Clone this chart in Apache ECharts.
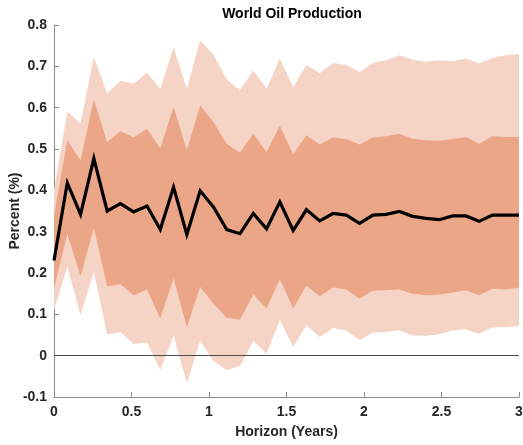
<!DOCTYPE html>
<html>
<head>
<meta charset="utf-8">
<script src="https://cdn.jsdelivr.net/npm/echarts@6/dist/echarts.min.js"></script>
<style>
html,body{margin:0;padding:0;background:#fff;}
#chart{width:523px;height:445px;}
</style>
</head>
<body>
<div id="chart"></div>
<script>
// Horizon in years (36 points from 0 to 3)
const horizon = [0, 0.0857, 0.1714, 0.2571, 0.3429, 0.4286, 0.5143, 0.6, 0.6857, 0.7714, 0.8571, 0.9429, 1.0286, 1.1143, 1.2, 1.2857, 1.3714, 1.4571, 1.5429, 1.6286, 1.7143, 1.8, 1.8857, 1.9714, 2.0571, 2.1429, 2.2286, 2.3143, 2.4, 2.4857, 2.5714, 2.6571, 2.7429, 2.8286, 2.9143, 3];

const median = [0.23, 0.418, 0.342, 0.477, 0.350, 0.368, 0.348, 0.362, 0.305, 0.408, 0.293, 0.399, 0.360, 0.305, 0.295, 0.344, 0.307, 0.372, 0.303, 0.353, 0.326, 0.344, 0.340, 0.320, 0.340, 0.342, 0.349, 0.337, 0.332, 0.329, 0.338, 0.338, 0.325, 0.340, 0.340, 0.340];

const outerUpper = [0.40, 0.590, 0.562, 0.723, 0.634, 0.665, 0.658, 0.685, 0.645, 0.747, 0.646, 0.763, 0.728, 0.669, 0.642, 0.690, 0.646, 0.719, 0.650, 0.703, 0.683, 0.708, 0.703, 0.686, 0.708, 0.715, 0.727, 0.716, 0.711, 0.715, 0.712, 0.719, 0.707, 0.720, 0.727, 0.730];

const innerUpper = [0.34, 0.521, 0.473, 0.620, 0.517, 0.543, 0.528, 0.549, 0.501, 0.602, 0.497, 0.605, 0.565, 0.513, 0.491, 0.537, 0.493, 0.556, 0.487, 0.533, 0.511, 0.528, 0.524, 0.511, 0.528, 0.531, 0.537, 0.525, 0.521, 0.520, 0.524, 0.529, 0.513, 0.531, 0.529, 0.529];

const innerLower = [0.162, 0.295, 0.192, 0.309, 0.168, 0.173, 0.146, 0.160, 0.090, 0.187, 0.069, 0.166, 0.126, 0.092, 0.087, 0.148, 0.114, 0.185, 0.114, 0.170, 0.144, 0.165, 0.160, 0.138, 0.157, 0.158, 0.160, 0.150, 0.146, 0.148, 0.153, 0.158, 0.146, 0.162, 0.160, 0.165];

const outerLower = [0.110, 0.215, 0.099, 0.203, 0.052, 0.057, 0.028, 0.032, -0.035, 0.049, -0.066, 0.036, -0.013, -0.035, -0.025, 0.036, 0.005, 0.086, 0.021, 0.074, 0.045, 0.067, 0.061, 0.037, 0.056, 0.057, 0.061, 0.049, 0.048, 0.052, 0.061, 0.064, 0.053, 0.069, 0.069, 0.072];

const chart = echarts.init(document.getElementById('chart'), null, {renderer: 'canvas'});

function bandSeries(upper, lower, color, z) {
  return {
    type: 'custom',
    coordinateSystem: 'cartesian2d',
    silent: true,
    z: z,
    data: [[0, 0]],
    renderItem: function (params, api) {
      const pts = [];
      for (let i = 0; i < horizon.length; i++) pts.push(api.coord([horizon[i], upper[i]]));
      for (let i = horizon.length - 1; i >= 0; i--) pts.push(api.coord([horizon[i], lower[i]]));
      return {
        type: 'polygon',
        shape: {points: pts},
        style: {fill: color, stroke: null}
      };
    }
  };
}

const font = '"Liberation Sans", Arial, sans-serif';

chart.setOption({
  animation: false,
  backgroundColor: '#fff',
  title: {
    text: 'World Oil Production',
    left: 287, top: 2, textAlign: 'center',
    textStyle: {fontFamily: font, fontSize: 14, fontWeight: 'bold', color: '#000'}
  },
  grid: {left: 54, right: 4, top: 25, bottom: 48, containLabel: false, outerBoundsMode: 'none'},
  xAxis: {
    type: 'value', min: 0, max: 3, interval: 0.5,
    name: 'Horizon (Years)', nameLocation: 'middle', nameGap: 28, nameMoveOverlap: false,
    nameTextStyle: {fontFamily: font, fontSize: 14, fontWeight: 'bold', color: '#262626'},
    axisLine: {show: true, onZero: false, lineStyle: {color: '#8a8a8a', width: 1}},
    axisTick: {show: true, inside: true, length: 5, lineStyle: {color: '#8a8a8a'}},
    axisLabel: {fontFamily: font, fontSize: 14, fontWeight: 'bold', color: '#262626', margin: 8},
    splitLine: {show: false}
  },
  yAxis: {
    type: 'value', min: -0.1, max: 0.8, interval: 0.1,
    name: 'Percent (%)', nameLocation: 'middle', nameGap: 32, nameRotate: 90, nameMoveOverlap: false,
    nameTextStyle: {fontFamily: font, fontSize: 14, fontWeight: 'bold', color: '#262626'},
    axisLine: {show: true, onZero: false, lineStyle: {color: '#8a8a8a', width: 1}},
    axisTick: {show: true, inside: true, length: 5, lineStyle: {color: '#8a8a8a'}},
    axisLabel: {fontFamily: font, fontSize: 14, fontWeight: 'bold', color: '#262626', margin: 7,
      formatter: function (v) { return String(Math.round(v * 10) / 10); }},
    splitLine: {show: false}
  },
  series: [
    bandSeries(outerUpper, outerLower, '#F5D3C5', 1),
    bandSeries(innerUpper, innerLower, '#EBA688', 2),
    {
      type: 'line',
      z: 5,
      data: horizon.map((x, i) => [x, median[i]]),
      showSymbol: false,
      symbol: 'none',
      lineStyle: {color: '#000', width: 3.2, join: 'miter'},
      markLine: {
        silent: true,
        symbol: 'none',
        label: {show: false},
        lineStyle: {color: '#4a4a4a', width: 1, type: 'solid'},
        data: [{yAxis: 0}]
      }
    }
  ]
});
</script>
</body>
</html>
